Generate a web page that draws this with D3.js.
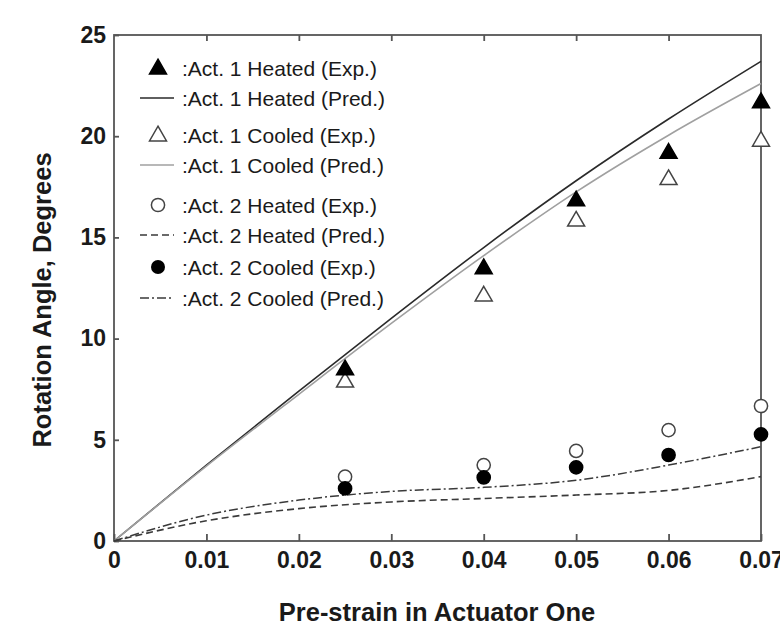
<!DOCTYPE html>
<html><head><meta charset="utf-8">
<script src="https://d3js.org/d3.v7.min.js"></script>
<style>body{margin:0;background:#fff}svg{display:block}text{font-family:"Liberation Sans",Arial,sans-serif}</style>
</head><body>
<script>
// ---- data ----
const xTicks = [0, 0.01, 0.02, 0.03, 0.04, 0.05, 0.06, 0.07];
const xTickLabels = ["0", "0.01", "0.02", "0.03", "0.04", "0.05", "0.06", "0.07"];
const yTicks = [0, 5, 10, 15, 20, 25];
const expStrain = [0.025, 0.04, 0.05, 0.06, 0.07];
const act1HeatedExp = [8.5, 13.5, 16.85, 19.2, 21.7];
const act1CooledExp = [7.9, 12.15, 15.85, 17.9, 19.8];
const act2HeatedExp = [3.18, 3.75, 4.45, 5.48, 6.67];
const act2CooledExp = [2.6, 3.14, 3.64, 4.25, 5.27];
const predStrain = [0, 0.01, 0.02, 0.03, 0.04, 0.05, 0.06, 0.07];
const act1HeatedPred = [0, 3.75, 7.4, 11.0, 14.5, 17.8, 20.85, 23.7];
const act1CooledPred = [0, 3.7, 7.25, 10.75, 14.1, 17.25, 20.05, 22.6];
const act2HeatedPred = [0, 1.0, 1.6, 1.93, 2.1, 2.27, 2.5, 3.18];
const act2CooledPred = [0, 1.28, 2.02, 2.45, 2.65, 3.0, 3.75, 4.66];
const legendLabels = [":Act. 1 Heated (Exp.)", ":Act. 1 Heated (Pred.)", ":Act. 1 Cooled (Exp.)", ":Act. 1 Cooled (Pred.)",
  ":Act. 2 Heated (Exp.)", ":Act. 2 Heated (Pred.)", ":Act. 2 Cooled (Exp.)", ":Act. 2 Cooled (Pred.)"];
const xTitle = "Pre-strain in Actuator One";
const yTitle = "Rotation Angle, Degrees";

// ---- layout ----
const W = 780, H = 631;
const L = 114, R = 761, T = 35, B = 541;
const svg = d3.select("body").append("svg").attr("width", W).attr("height", H);
const x = d3.scaleLinear().domain([0, 0.07]).range([L, R]);
const y = d3.scaleLinear().domain([0, 25]).range([B, T]);
const axisCol = "#555";

// frame
svg.append("rect").attr("x", L).attr("y", T).attr("width", R - L).attr("height", B - T)
  .attr("fill", "none").attr("stroke", axisCol).attr("stroke-width", 1.8);

// bottom axis (ticks inward)
const gx = svg.append("g").attr("transform", `translate(0,${B})`)
  .call(d3.axisBottom(x).tickValues(xTicks).tickSize(-7).tickPadding(11).tickFormat((d, i) => xTickLabels[i]));
gx.select(".domain").remove();
gx.selectAll("line").attr("stroke", axisCol).attr("stroke-width", 1.8);
gx.selectAll("text").attr("font-size", 23).attr("font-weight", "bold").attr("fill", "#1a1a1a");

// top axis ticks
const gt = svg.append("g").attr("transform", `translate(0,${T})`)
  .call(d3.axisTop(x).tickValues(xTicks.slice(1, -1)).tickSize(-6).tickFormat(""));
gt.select(".domain").remove();
gt.selectAll("line").attr("stroke", axisCol).attr("stroke-width", 1.8);

// left axis
const gy = svg.append("g").attr("transform", `translate(${L},0)`)
  .call(d3.axisLeft(y).tickValues(yTicks).tickSize(-5).tickPadding(8));
gy.select(".domain").remove();
gy.selectAll("line").attr("stroke", axisCol).attr("stroke-width", 1.8);
gy.selectAll("text").attr("font-size", 23).attr("font-weight", "bold").attr("fill", "#1a1a1a");

// titles
svg.append("text").attr("x", 437).attr("y", 621).attr("text-anchor", "middle")
  .attr("font-size", 25.5).attr("font-weight", "bold").attr("fill", "#1a1a1a").text(xTitle);
svg.append("text").attr("transform", `translate(51,300) rotate(-90)`).attr("text-anchor", "middle")
  .attr("font-size", 25.5).attr("font-weight", "bold").attr("fill", "#1a1a1a").text(yTitle);

// prediction lines
const line = d3.line().x((d, i) => x(predStrain[i])).y(d => y(d)).curve(d3.curveMonotoneX);
const styles = [
  {data: act1HeatedPred, stroke: "#2a2a2a", w: 1.6, dash: null},
  {data: act1CooledPred, stroke: "#a0a0a0", w: 1.6, dash: null},
  {data: act2HeatedPred, stroke: "#3a3a3a", w: 1.6, dash: "7,4"},
  {data: act2CooledPred, stroke: "#3a3a3a", w: 1.5, dash: "9,3,2,3"}
];
styles.forEach(s => {
  svg.append("path").attr("d", line(s.data)).attr("fill", "none").attr("stroke", s.stroke)
    .attr("stroke-width", s.w).attr("stroke-dasharray", s.dash);
});

// markers
const tri = d3.symbol().type(d3.symbolTriangle).size(125);
function triangles(vals, filled) {
  svg.append("g").selectAll("path").data(vals).join("path")
    .attr("d", tri).attr("transform", (d, i) => `translate(${x(expStrain[i])},${y(d) + 1})`)
    .attr("fill", filled ? "#000" : "#fff").attr("stroke", filled ? "#000" : "#444").attr("stroke-width", 1.5);
}
function circles(vals, filled) {
  svg.append("g").selectAll("circle").data(vals).join("circle")
    .attr("cx", (d, i) => x(expStrain[i])).attr("cy", d => y(d)).attr("r", 6.6)
    .attr("fill", filled ? "#000" : "#fff").attr("stroke", filled ? "#000" : "#444").attr("stroke-width", 1.5);
}
triangles(act1CooledExp, false);
triangles(act1HeatedExp, true);
circles(act2HeatedExp, false);
circles(act2CooledExp, true);

// legend
const rowY = [68, 98, 135, 165, 205, 235, 267, 298];
const lg = svg.append("g");
const symX = 158, textX = 182;
function legLine(yy, s) {
  lg.append("line").attr("x1", 140).attr("x2", 174).attr("y1", yy).attr("y2", yy)
    .attr("stroke", s.stroke).attr("stroke-width", s.w).attr("stroke-dasharray", s.dash);
}
lg.append("path").attr("d", tri).attr("transform", `translate(${symX},${rowY[0] + 1})`).attr("fill", "#000").attr("stroke", "#000").attr("stroke-width", 1.5);
legLine(rowY[1], styles[0]);
lg.append("path").attr("d", tri).attr("transform", `translate(${symX},${rowY[2] + 1})`).attr("fill", "#fff").attr("stroke", "#444").attr("stroke-width", 1.5);
legLine(rowY[3], styles[1]);
lg.append("circle").attr("cx", symX).attr("cy", rowY[4]).attr("r", 6.6).attr("fill", "#fff").attr("stroke", "#444").attr("stroke-width", 1.5);
legLine(rowY[5], styles[2]);
lg.append("circle").attr("cx", symX).attr("cy", rowY[6]).attr("r", 7).attr("fill", "#000");
legLine(rowY[7], styles[3]);
legendLabels.forEach((t, i) => {
  lg.append("text").attr("x", textX).attr("y", rowY[i]).attr("dy", "0.36em")
    .attr("font-size", 21).attr("fill", "#1a1a1a").text(t);
});
</script>
</body></html>
